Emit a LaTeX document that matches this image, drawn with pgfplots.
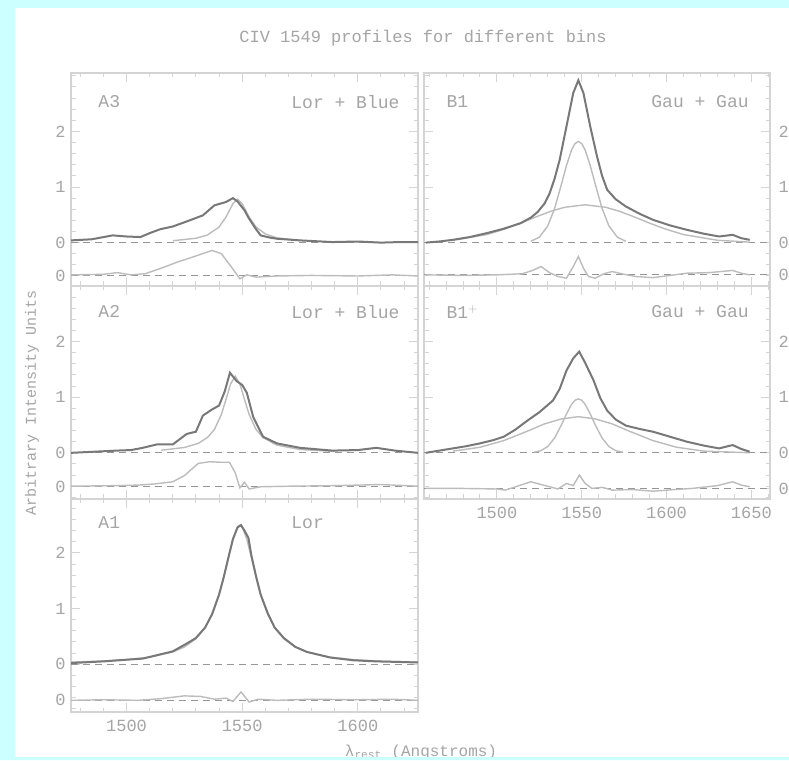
\documentclass[border=0pt]{standalone}
\usepackage{fontspec}
\setmainfont{Liberation Mono}
\usepackage{pgfplots}
\pgfplotsset{compat=1.18}

\definecolor{bgcyan}{RGB}{204,255,255}
\definecolor{framecol}{RGB}{212,212,212}
\definecolor{textcol}{RGB}{165,165,165}
\definecolor{darkline}{RGB}{120,120,120}
\definecolor{lightline}{RGB}{188,188,188}
\definecolor{dashcol}{RGB}{150,150,150}

\tikzset{lab/.style={textcol, font=\fontsize{18}{18}\selectfont, anchor=west}}

\pgfplotsset{
  panel/.style={
    scale only axis, height=213pt, anchor=south west,
    axis line style={framecol, line width=1.6pt},
    tick style={framecol, line width=1pt},
    major tick length=9pt, minor tick length=4.5pt,
    minor ytick={-0.8,-0.6,...,3.0},
    yticklabels={0,0,1,2},
    xticklabels={},
    tick label style={textcol, font=\fontsize{17}{17}\selectfont},
    xticklabel style={yshift=-5pt},
    /pgf/number format/assume math mode=true,
    /pgf/number format/1000 sep={},
    clip=true,
  },
  leftp/.style={panel, width=347pt, xmin=1476, xmax=1626,
    xtick={1500,1550,1600}, minor xtick={1480,1490,...,1620},
    yticklabel style={xshift=-2pt}},
  rightp/.style={panel, width=346pt, xmin=1457, xmax=1661,
    xtick={1500,1550,1600,1650}, minor xtick={1460,1470,...,1660},
    ytick pos=both, yticklabel pos=right, yticklabel style={xshift=5pt}},
  tot/.style={darkline, line width=2pt},
  comp/.style={lightline, line width=1.4pt},
  zl/.style={dashcol, line width=1pt, dash pattern=on 7pt off 5pt},
}

\begin{document}
\begin{tikzpicture}
\fill[white] (0pt,0pt) rectangle (789pt,760pt);

% ---------------- A3 ----------------
\begin{axis}[leftp, at={(71pt,474pt)}, ymin=-0.78, ymax=3.05, ytick={-0.6,0,1,2}]
\addplot[zl] coordinates {(1476,0) (1626,0)};
\addplot[zl] coordinates {(1476,-0.6) (1626,-0.6)};
\addplot[comp] table {
1520 0.034
1530 0.078
1535 0.137
1540 0.28
1543 0.46
1546 0.70
1548 0.78
1550 0.70
1553 0.46
1556 0.28
1560 0.156
1565 0.086
1575 0.037
};
\addplot[comp] table[y expr=\thisrowno{1}-0.6] {
1476 0.02
1490 0.03
1496 0.06
1502 0.02
1508 0.04
1515 0.14
1522 0.25
1530 0.36
1537 0.46
1541 0.40
1545 0.18
1549 -0.05
1552 0.02
1556 -0.02
1565 0.00
1580 0.01
1600 0.00
1615 0.02
1626 0.00
};
\addplot[tot] table {
1476 0.04
1485 0.06
1494 0.13
1500 0.11
1506 0.10
1510 0.17
1514.5 0.24
1520 0.29
1526 0.38
1533 0.49
1538 0.67
1543 0.73
1546 0.80
1548 0.74
1551 0.58
1553 0.43
1556 0.24
1558 0.13
1562 0.09
1565 0.07
1575 0.04
1589 0.01
1600 0.02
1610 0.00
1618 0.01
1626 0.01
};
\node[lab] at (rel axis cs:0.069,0.864) {A3};
\node[lab] at (rel axis cs:0.625,0.864) {Lor + Blue};
\end{axis}

% ---------------- A2 ----------------
\begin{axis}[leftp, at={(71pt,261pt)}, ymin=-0.83, ymax=3.0, ytick={-0.61,0,1,2}]
\addplot[zl] coordinates {(1476,0) (1626,0)};
\addplot[zl] coordinates {(1476,-0.61) (1626,-0.61)};
\addplot[comp] table {
1515 0.047
1525 0.096
1531 0.17
1535 0.276
1538 0.42
1541 0.69
1543 0.96
1545 1.24
1547 1.38
1549 1.24
1551 0.96
1553 0.69
1556 0.42
1559 0.276
1565 0.138
1575 0.06
1590 0.026
};
\addplot[comp] table[y expr=\thisrowno{1}-0.61] {
1476 0.01
1495 0.02
1505 0.03
1512 0.05
1520 0.09
1525 0.20
1531 0.42
1536 0.45
1541 0.44
1544.5 0.44
1547 0.25
1549 -0.02
1551 0.08
1553 -0.04
1558 0.00
1570 0.01
1590 0.02
1610 0.04
1626 0.01
};
\addplot[tot] table {
1476 0.00
1486 0.02
1495.6 0.04
1502 0.05
1507 0.09
1513 0.15
1520 0.15
1526 0.34
1530 0.38
1533 0.67
1537 0.78
1540 0.85
1542.5 1.11
1544.7 1.44
1547.6 1.29
1550 1.22
1552 1.08
1554.8 0.64
1559 0.29
1565 0.17
1575 0.09
1589 0.04
1600 0.05
1608 0.09
1616 0.04
1626 0.00
};
\node[lab] at (rel axis cs:0.069,0.878) {A2};
\node[lab] at (rel axis cs:0.625,0.878) {Lor + Blue};
\end{axis}

% ---------------- A1 ----------------
\begin{axis}[leftp, at={(71pt,48pt)}, ymin=-0.86, ymax=2.97, ytick={-0.65,0,1,2},
  xticklabels={1500,1550,1600}]
\addplot[zl] coordinates {(1476,0) (1626,0)};
\addplot[zl] coordinates {(1476,-0.65) (1626,-0.65)};
\addplot[comp] table {
1476 0.037
1490 0.057
1500 0.082
1510 0.126
1520 0.22
1525 0.308
1530 0.458
1534 0.66
1537 0.90
1540 1.25
1542 1.56
1544 1.91
1546 2.25
1548 2.47
1549 2.50
1550 2.47
1552 2.25
1554 1.91
1556 1.56
1558 1.25
1561 0.90
1564 0.66
1568 0.458
1573 0.308
1578 0.22
1588 0.126
1598 0.082
1608 0.057
1626 0.034
};
\addplot[comp] table[y expr=\thisrowno{1}-0.65] {
1476 0.00
1490 0.01
1505 0.00
1515 0.03
1525 0.08
1532 0.07
1538 0.02
1543 0.04
1546 -0.02
1549.5 0.15
1553 -0.03
1557 0.02
1565 0.00
1580 0.02
1600 0.01
1615 0.02
1626 0.00
};
\addplot[tot] table {
1476 0.02
1490 0.05
1500 0.08
1507 0.10
1510 0.13
1517 0.20
1520 0.23
1526 0.37
1530 0.47
1534 0.66
1537 0.90
1540 1.25
1542 1.56
1544 1.91
1546 2.25
1548 2.46
1549.5 2.50
1551 2.40
1552.7 2.27
1554 1.95
1556 1.58
1558 1.25
1561 0.92
1564 0.66
1568 0.47
1573 0.31
1578 0.22
1588 0.12
1598 0.07
1608 0.05
1618 0.04
1626 0.03
};
\node[lab] at (rel axis cs:0.069,0.887) {A1};
\node[lab] at (rel axis cs:0.625,0.887) {Lor};
\end{axis}

% ---------------- B1 ----------------
\begin{axis}[rightp, at={(424pt,474pt)}, ymin=-0.78, ymax=3.05, ytick={-0.58,0,1,2}]
\addplot[zl] coordinates {(1457,0) (1661,0)};
\addplot[zl] coordinates {(1457,-0.58) (1661,-0.58)};
% broad component
\addplot[comp] table {
1474 0.042
1494 0.145
1505 0.247
1514 0.35
1524 0.474
1532 0.566
1540 0.636
1552 0.68
1564 0.636
1572 0.566
1580 0.474
1590 0.35
1599 0.247
1610 0.145
1630 0.042
1649 0.009
};
% narrow component
\addplot[comp] table {
1520 0.024
1525 0.097
1530 0.302
1534 0.614
1538 1.046
1541 1.387
1544 1.666
1546 1.78
1548 1.82
1550 1.78
1552 1.666
1555 1.387
1558 1.046
1562 0.614
1566 0.302
1571 0.097
1576 0.024
};
\addplot[comp] table[y expr=\thisrowno{1}-0.58] {
1458 0.00
1480 -0.01
1500 0.00
1515 0.02
1521 0.08
1526 0.15
1531 0.04
1536 -0.03
1541 -0.06
1545 0.15
1548 0.33
1551 0.12
1554 -0.03
1558 -0.06
1563 0.02
1568 0.06
1575 0.01
1582 -0.03
1592 -0.05
1602 -0.01
1612 0.03
1625 0.04
1639 0.08
1644 0.03
1649 0.00
};
\addplot[tot] table {
1458 0.00
1466 0.02
1474 0.05
1484 0.10
1494 0.17
1504 0.25
1514 0.35
1520 0.45
1524 0.55
1528 0.70
1531 0.88
1534 1.15
1537 1.49
1541 2.09
1545 2.69
1548 2.92
1551 2.69
1555 2.09
1559 1.55
1562 1.20
1565 0.95
1570 0.78
1576 0.65
1584 0.52
1592 0.41
1602 0.31
1612 0.23
1622 0.16
1631 0.11
1639 0.14
1644 0.08
1649 0.05
};
\node[lab] at (rel axis cs:0.055,0.864) {B1};
\node[lab] at (rel axis cs:0.647,0.864) {Gau + Gau};
\end{axis}

% ---------------- B1+ ----------------
\begin{axis}[rightp, at={(424pt,261pt)}, ymin=-0.83, ymax=3.0, ytick={-0.64,0,1,2},
  xticklabels={1500,1550,1600,1650}]
\addplot[zl] coordinates {(1457,0) (1661,0)};
\addplot[zl] coordinates {(1457,-0.64) (1661,-0.64)};
% broad component
\addplot[comp] table {
1474 0.031
1490 0.10
1504 0.22
1518 0.39
1528 0.52
1538 0.61
1548 0.65
1558 0.61
1568 0.52
1578 0.39
1592 0.22
1606 0.10
1622 0.031
1649 0.002
};
% narrow component
\addplot[comp] table {
1522 0.011
1526 0.040
1530 0.114
1534 0.266
1538 0.501
1541 0.70
1544 0.873
1546 0.945
1548 0.97
1550 0.945
1552 0.873
1555 0.70
1558 0.501
1562 0.266
1566 0.114
1570 0.040
1574 0.011
};
\addplot[comp] table[y expr=\thisrowno{1}-0.64] {
1458 0.00
1480 0.00
1500 -0.01
1505 -0.03
1513 0.05
1520 0.12
1526 0.07
1531 0.03
1536 -0.01
1541 0.09
1545 0.05
1548.6 0.24
1552 0.09
1556 0.00
1562 0.02
1568 -0.03
1580 -0.02
1592 -0.05
1605 -0.02
1615 0.00
1630 0.05
1639 0.12
1644 0.06
1649 0.03
};
\addplot[tot] table {
1458 0.00
1466 0.04
1474 0.08
1482 0.12
1490 0.17
1498 0.23
1504 0.29
1511 0.42
1518 0.58
1525 0.73
1533 0.94
1537 1.15
1541 1.48
1545 1.70
1548.5 1.82
1552 1.62
1557 1.30
1561 0.98
1565 0.76
1570 0.60
1576 0.49
1584 0.43
1592 0.38
1602 0.29
1612 0.20
1622 0.13
1631 0.08
1639 0.14
1644 0.07
1649 0.02
};
\node[lab] at (rel axis cs:0.055,0.878) {B1$^+$};
\node[lab] at (rel axis cs:0.647,0.878) {Gau + Gau};
\end{axis}

% titles and axis labels
\node[textcol, font=\fontsize{17}{17}\selectfont] at (423pt,722pt) {CIV 1549 profiles for different bins};
\node[textcol, font=\fontsize{15}{15}\selectfont, rotate=90] at (32pt,357pt) {Arbitrary Intensity Units};
\node[textcol, font=\fontsize{16}{16}\selectfont] at (421pt,8pt) {λ\textsubscript{rest} (Angstroms)};

% cyan page frame
\fill[bgcyan, even odd rule] (0pt,0pt) rectangle (789pt,760pt) (15pt,3pt) rectangle (789pt,752pt);
\pgfresetboundingbox
\useasboundingbox (0pt,0pt) rectangle (789pt,760pt);
\end{tikzpicture}
\end{document}
